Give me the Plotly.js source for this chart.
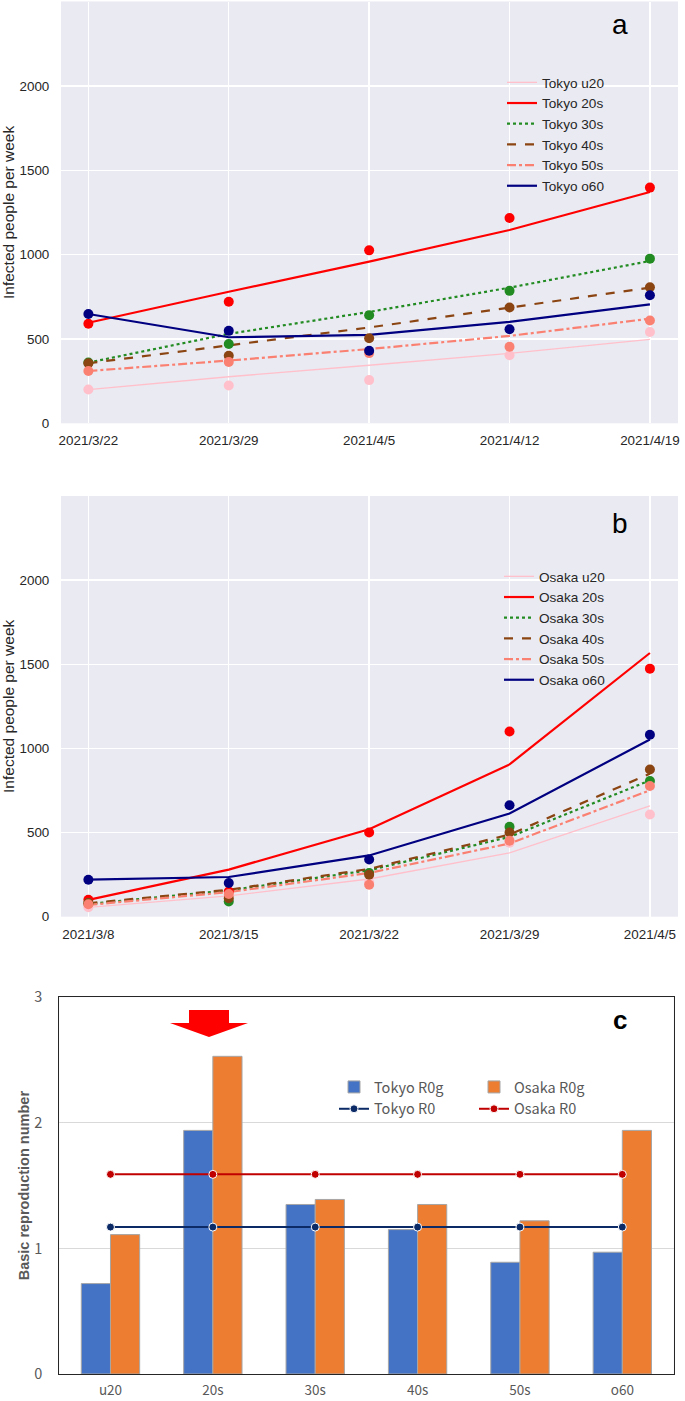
<!DOCTYPE html>
<html>
<head>
<meta charset="utf-8">
<script src="https://cdn.plot.ly/plotly-3.0.1.min.js"></script>
<style>html,body{margin:0;padding:0;background:#fff;}#chart{width:685px;height:1401px;}</style>
</head>
<body>
<div id="chart"></div>
<script>
// ---------- Data ----------
const tokyoDates = ['2021/3/22', '2021/3/29', '2021/4/5', '2021/4/12', '2021/4/19'];
const osakaDates = ['2021/3/8', '2021/3/15', '2021/3/22', '2021/3/29', '2021/4/5'];
const ageGroups = ['u20', '20s', '30s', '40s', '50s', 'o60'];

// Tokyo observed weekly infections
const tokyoObsU20 = [200, 224, 256, 403, 541];
const tokyoObs20s = [590, 720, 1025, 1217, 1397];
const tokyoObs30s = [360, 470, 640, 785, 976];
const tokyoObs40s = [356, 400, 504, 686, 806];
const tokyoObs50s = [310, 364, 416, 454, 609];
const tokyoObsO60 = [648, 548, 430, 557, 759];
// Tokyo model curves
const tokyoFitU20 = [200, 276, 344, 415, 498];
const tokyoFit20s = [596, 780, 958, 1146, 1371];
const tokyoFit30s = [360, 530, 660, 804, 962];
const tokyoFit40s = [356, 460, 568, 686, 804];
const tokyoFit50s = [310, 372, 440, 518, 620];
const tokyoFitO60 = [648, 510, 524, 601, 705];

// Osaka observed weekly infections
const osakaObsU20 = [56, 120, 205, 440, 607];
const osakaObs20s = [100, 150, 500, 1101, 1474];
const osakaObs30s = [80, 90, 260, 534, 806];
const osakaObs40s = [80, 110, 250, 500, 875];
const osakaObs50s = [74, 135, 190, 451, 777];
const osakaObsO60 = [220, 200, 340, 662, 1081];
// Osaka model curves
const osakaFitU20 = [56, 124, 224, 379, 658];
const osakaFit20s = [100, 280, 520, 905, 1567];
const osakaFit30s = [76, 156, 276, 474, 810];
const osakaFit40s = [80, 160, 284, 488, 850];
const osakaFit50s = [70, 146, 260, 435, 751];
const osakaFitO60 = [220, 236, 364, 613, 1053];

// Basic reproduction numbers
const tokyoR0g = [0.72, 1.94, 1.35, 1.15, 0.89, 0.97];
const osakaR0g = [1.11, 2.53, 1.39, 1.35, 1.22, 1.94];
const tokyoR0 = [1.17, 1.17, 1.17, 1.17, 1.17, 1.17];
const osakaR0 = [1.59, 1.59, 1.59, 1.59, 1.59, 1.59];

const countTicks = [0, 500, 1000, 1500, 2000];
const r0Ticks = [0, 1, 2, 3];

// ---------- Styles ----------
const W = 685, H = 1401;
const px = v => v / W;
const py = v => 1 - v / H;

const groupStyles = [
  {name: 'u20', color: '#FFC0CB', dash: 'solid', width: 1.3},
  {name: '20s', color: '#FF0000', dash: 'solid', width: 2.2},
  {name: '30s', color: '#228B22', dash: 'dot', width: 2.2},
  {name: '40s', color: '#8B4513', dash: 'dash', width: 2.2},
  {name: '50s', color: '#FA8072', dash: 'dashdot', width: 2.2},
  {name: 'o60', color: '#000080', dash: 'solid', width: 2.2}
];

const tokyoObs = [tokyoObsU20, tokyoObs20s, tokyoObs30s, tokyoObs40s, tokyoObs50s, tokyoObsO60];
const tokyoFit = [tokyoFitU20, tokyoFit20s, tokyoFit30s, tokyoFit40s, tokyoFit50s, tokyoFitO60];
const osakaObs = [osakaObsU20, osakaObs20s, osakaObs30s, osakaObs40s, osakaObs50s, osakaObsO60];
const osakaFit = [osakaFitU20, osakaFit20s, osakaFit30s, osakaFit40s, osakaFit50s, osakaFitO60];

const traces = [];
function addCity(city, dates, obs, fit, xa, ya, legendId) {
  groupStyles.forEach((g, i) => {
    traces.push({
      type: 'scatter', mode: 'lines', x: dates, y: fit[i],
      name: city + ' ' + g.name, xaxis: xa, yaxis: ya, legend: legendId,
      line: {color: g.color, dash: g.dash, width: g.width}
    });
  });
  groupStyles.forEach((g, i) => {
    traces.push({
      type: 'scatter', mode: 'markers', x: dates, y: obs[i],
      name: city + ' ' + g.name + ' data', showlegend: false,
      xaxis: xa, yaxis: ya,
      marker: {color: g.color, size: 10}
    });
  });
}
addCity('Tokyo', tokyoDates, tokyoObs, tokyoFit, 'x', 'y', 'legend');
addCity('Osaka', osakaDates, osakaObs, osakaFit, 'x2', 'y2', 'legend2');

// Panel c
traces.push({
  type: 'bar', x: ageGroups, y: tokyoR0g, name: 'Tokyo R0g', xaxis: 'x3', yaxis: 'y3', legend: 'legend3',
  marker: {color: '#4472C4', line: {color: '#A6A6A6', width: 1}}
});
traces.push({
  type: 'bar', x: ageGroups, y: osakaR0g, name: 'Osaka R0g', xaxis: 'x3', yaxis: 'y3', legend: 'legend4',
  marker: {color: '#ED7D31', line: {color: '#A6A6A6', width: 1}}
});
traces.push({
  type: 'scatter', mode: 'lines+markers', x: ageGroups, y: tokyoR0, name: 'Tokyo R0', xaxis: 'x3', yaxis: 'y3', legend: 'legend3',
  line: {color: '#0B2A66', width: 2}, marker: {color: '#0B2A66', size: 8, line: {color: '#ffffff', width: 1}}
});
traces.push({
  type: 'scatter', mode: 'lines+markers', x: ageGroups, y: osakaR0, name: 'Osaka R0', xaxis: 'x3', yaxis: 'y3', legend: 'legend4',
  line: {color: '#C00000', width: 2}, marker: {color: '#C00000', size: 8, line: {color: '#ffffff', width: 1}}
});

const sbFont = {family: 'Liberation Sans, Arial, sans-serif', size: 13.4, color: '#262626'};
const sbX = (dom) => ({
  domain: dom, type: 'category', range: [-0.195, 4.2],
  showgrid: true, gridcolor: '#FFFFFF', gridwidth: 1.3, zeroline: false, showline: false,
  ticks: 'outside', ticklen: 5, tickcolor: 'rgba(0,0,0,0)', tickfont: sbFont, fixedrange: true
});
const sbY = (dom, anchor) => ({
  domain: dom, anchor: anchor, range: [0, 2500], tickvals: countTicks, ticktext: countTicks.map(String),
  showgrid: true, gridcolor: '#FFFFFF', gridwidth: 1.3, zeroline: false, showline: false,
  ticks: 'outside', ticklen: 8, tickcolor: 'rgba(0,0,0,0)', tickfont: sbFont,
  title: {text: 'Infected people per week', font: {family: 'Liberation Sans, Arial, sans-serif', size: 15.5, color: '#262626'}, standoff: 10},
  automargin: false, fixedrange: true
});

const legendBase = (x, yTop) => ({
  x: px(x), y: py(yTop), xanchor: 'left', yanchor: 'top', bgcolor: 'rgba(0,0,0,0)',
  borderwidth: 0, font: {family: 'Liberation Sans, Arial, sans-serif', size: 13.6, color: '#262626'},
  tracegroupgap: 0, itemwidth: 30
});
const cFont = {family: 'Noto Sans CJK JP, Noto Sans, sans-serif', size: 14.5, color: '#595959'};
const cTickFont = {family: 'Noto Sans CJK JP, Noto Sans, sans-serif', size: 13.5, color: '#595959'};
const legendC = (x, yTop) => ({
  x: px(x), y: py(yTop), xanchor: 'left', yanchor: 'top', bgcolor: 'rgba(0,0,0,0)',
  borderwidth: 0, font: cFont, tracegroupgap: 0, itemwidth: 30
});

const layout = {
  width: W, height: H,
  margin: {l: 0, r: 0, t: 0, b: 0},
  paper_bgcolor: '#FFFFFF',
  barmode: 'group', bargap: 0.43, bargroupgap: 0,
  showlegend: true,
  xaxis: Object.assign(sbX([px(61), px(678)]), {anchor: 'y'}),
  yaxis: sbY([py(423.3), py(1.5)], 'x'),
  xaxis2: Object.assign(sbX([px(61), px(678)]), {anchor: 'y2'}),
  yaxis2: sbY([py(916.7), py(496)], 'x2'),
  xaxis3: {
    domain: [px(59.3), px(673.5)], anchor: 'y3', type: 'category',
    showgrid: false, zeroline: false, showline: true, mirror: true, linecolor: '#262626', linewidth: 1.2,
    ticks: 'outside', ticklen: 4, tickcolor: 'rgba(0,0,0,0)',
    tickfont: cTickFont, fixedrange: true
  },
  yaxis3: {
    domain: [py(1374), py(997.3)], anchor: 'x3', range: [0, 3], tickvals: r0Ticks, ticktext: r0Ticks.map(String),
    showgrid: true, gridcolor: '#D9D9D9', gridwidth: 1, zeroline: false,
    showline: true, mirror: true, linecolor: '#262626', linewidth: 1.2,
    ticks: 'outside', ticklen: 13, tickcolor: 'rgba(0,0,0,0)', tickfont: cFont,
    title: {text: 'Basic reproduction number', font: {family: 'Liberation Sans, Arial, sans-serif', size: 14.5, color: '#595959', weight: 'bold'}, standoff: 1},
    automargin: false, fixedrange: true
  },
  plot_bgcolor: '#EAEAF2',
  legend: legendBase(502, 67),
  legend2: legendBase(499, 561),
  legend3: legendC(334, 1071),
  legend4: legendC(474, 1071),
  shapes: [
    // white background for panel c plot area
    {type: 'rect', xref: 'paper', yref: 'paper', x0: px(59.3), x1: px(673.5), y0: py(1374), y1: py(997.3),
     fillcolor: '#FFFFFF', line: {width: 0}, layer: 'below'},
    // red arrow above 20s
    {type: 'path', xref: 'paper', yref: 'paper', fillcolor: '#FF0000', line: {width: 0},
     path: 'M' + px(189) + ',' + py(1010) + ' L' + px(229) + ',' + py(1010) + ' L' + px(229) + ',' + py(1023) +
           ' L' + px(248) + ',' + py(1023) + ' L' + px(209) + ',' + py(1037) + ' L' + px(170) + ',' + py(1023) +
           ' L' + px(189) + ',' + py(1023) + ' Z'}
  ],
  annotations: [
    {text: 'a', xref: 'paper', yref: 'paper', x: px(620), y: py(24), xanchor: 'center', yanchor: 'middle', showarrow: false,
     font: {family: 'Liberation Sans, Arial, sans-serif', size: 28, color: '#000000'}},
    {text: 'b', xref: 'paper', yref: 'paper', x: px(620), y: py(523), xanchor: 'center', yanchor: 'middle', showarrow: false,
     font: {family: 'Liberation Sans, Arial, sans-serif', size: 28, color: '#000000'}},
    {text: '<b>c</b>', xref: 'paper', yref: 'paper', x: px(620), y: py(1020), xanchor: 'center', yanchor: 'middle', showarrow: false,
     font: {family: 'Liberation Sans, Arial, sans-serif', size: 26, color: '#000000'}}
  ]
};

Plotly.newPlot('chart', traces, layout, {displayModeBar: false, staticPlot: true});
</script>
</body>
</html>
